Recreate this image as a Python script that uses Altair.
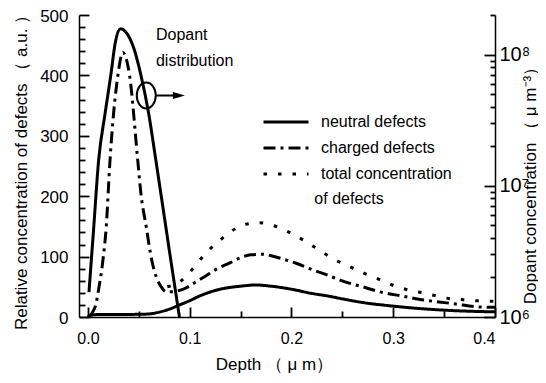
import altair as alt
import pandas as pd

# ---- data ----
series_names = ["neutral defects", "charged defects", "total concentration of defects"]

neutral_depth = [0.000, 0.003, 0.010, 0.030, 0.050, 0.060, 0.070, 0.080, 0.090, 0.100, 0.110,
                 0.130, 0.150, 0.165, 0.180, 0.200, 0.220, 0.235, 0.250, 0.270, 0.300, 0.330,
                 0.360, 0.400]
neutral_value = [0, 3, 4, 4, 4.5, 5, 8, 13, 20, 27, 35,
                 46, 51, 53, 51, 46, 39, 35, 30, 24, 18, 13.5,
                 10.5, 8.5]

charged_depth = [0.0016, 0.0049, 0.0081, 0.0098, 0.0147, 0.018, 0.0215, 0.0294, 0.0343, 0.0409,
                 0.049, 0.052, 0.0572, 0.0627, 0.067, 0.072, 0.0768, 0.083, 0.090, 0.095, 0.106,
                 0.115, 0.125, 0.140, 0.150, 0.160, 0.172, 0.180, 0.1915, 0.2046, 0.221, 0.233,
                 0.252, 0.270, 0.286, 0.3125, 0.330, 0.345, 0.3615, 0.381, 0.400]
charged_value = [2, 9, 23, 39, 94, 150, 255, 400, 438, 400,
                 258, 205, 150, 94, 67, 50, 42, 42, 44, 47, 58,
                 67, 78, 90, 98, 103, 104, 101.5, 96, 89, 78, 71,
                 58.5, 50, 42, 33.6, 28, 25, 21.5, 17, 16]

total_depth = [0.078, 0.090, 0.103, 0.116, 0.130, 0.140, 0.155, 0.168, 0.183, 0.198, 0.213,
               0.227, 0.241, 0.256, 0.270, 0.285, 0.299, 0.315, 0.329, 0.342, 0.357, 0.369,
               0.381, 0.400]
total_value = [50, 58, 80, 106, 127.5, 141, 153.5, 156, 151, 140, 126,
               111, 96.5, 84.4, 73.4, 63, 53, 44.7, 40, 35, 30, 28.5,
               27, 26]

dopant_depth = [0.001, 0.0055, 0.0105, 0.0167, 0.0225, 0.027, 0.032, 0.037, 0.045, 0.052,
                0.0598, 0.0667, 0.074, 0.080, 0.0899]
dopant_conc = [1.55e6, 4.6e6, 1.57e7, 3.5e7, 7.0e7, 1.25e8, 1.57e8, 1.49e8, 1.12e8, 7.0e7,
               3.5e7, 1.57e7, 6.6e6, 3.2e6, 1.0e6]

# axis ranges and tick values
X_MIN, X_MAX = -0.0088, 0.4
Y_MAX = 500
R_MIN, R_MAX = 1e6, 2e8
x_labels = [0.0, 0.1, 0.2, 0.3, 0.4]
x_minor = [0.05, 0.15, 0.25, 0.35]
left_major = [0, 100, 200, 300, 400, 500]
left_minor = [20, 40, 60, 80, 120, 140, 160, 180, 220, 240, 260, 280,
              320, 340, 360, 380, 420, 440, 460, 480]
right_major = [1e6, 1e7, 1e8]
right_minor = [2e6, 3e6, 4e6, 5e6, 6e6, 7e6, 8e6, 9e6,
               2e7, 3e7, 4e7, 5e7, 6e7, 7e7, 8e7, 9e7, 2e8]

# annotation
ann_text = ["Dopant", "distribution", "of defects"]
ann_depth = [0.0668, 0.0668, 0.2225]
ann_value = [467, 424, 195]
circle_depth = [0.0573]
circle_value = [366.7]
arrow_depth = [0.0668]
arrow_depth2 = [0.0894]
arrow_value = [366.7]

W, H = 416, 302
FONT = "Liberation Sans, Arial, sans-serif"

# ---- frames ----
rows = []
for name, ds, vs in zip(series_names,
                        [neutral_depth, charged_depth, total_depth],
                        [neutral_value, charged_value, total_value]):
    for d, v in zip(ds, vs):
        rows.append({"series": name, "depth": d, "value": v})
curves_df = pd.DataFrame(rows)
dop_df = pd.DataFrame({"depth": dopant_depth, "conc": dopant_conc})

xs = alt.Scale(domain=[X_MIN, X_MAX], nice=False, zero=False)
yl = alt.Scale(domain=[0, Y_MAX], nice=False, zero=False)
yr = alt.Scale(type="log", domain=[R_MIN, R_MAX], nice=False)


def inward(n):
    # negative tick size draws the ticks into the plot
    return alt.ExprRef(expr=str(-n))


curves = alt.Chart(curves_df).mark_line(
    strokeWidth=3, color="black", interpolate="monotone", clip=True
).encode(
    x=alt.X("depth:Q", scale=xs, axis=alt.Axis(
        orient="bottom", values=x_labels, format=".1f", ticks=True, tickSize=inward(10),
        labelPadding=23, labelFontSize=16, title="Depth （ μ m）", titleFontSize=17,
        titleX=195, titleY=47, titleAlign="center", titleBaseline="middle")),
    y=alt.Y("value:Q", scale=yl, axis=alt.Axis(
        orient="left", values=left_major, ticks=True, tickSize=inward(10), labelPadding=21,
        labelFontSize=17, labelOffset=1,
        title="Relative concentration of defects （ a.u. ）",
        titleFontSize=17, titleAngle=270, titleX=-58, titleY=153,
        titleAlign="center", titleBaseline="middle")),
    strokeDash=alt.StrokeDash("series:N", scale=alt.Scale(
        domain=series_names, range=[[1, 0], [12, 5, 3, 5], [3.5, 11]]),
        legend=alt.Legend(
            title=None, orient="none", legendX=199, legendY=99, padding=0,
            symbolType="M -4.5 0 H 4.5", symbolSize=100, symbolStrokeWidth=3,
            symbolStrokeColor="black", labelFontSize=16, labelFont=FONT,
            labelOffset=27, rowPadding=10, labelLimit=300,
            labelExpr="datum.label == 'total concentration of defects' ? 'total concentration' : datum.label")),
)

dopant = alt.Chart(dop_df).mark_line(
    strokeWidth=3, color="black", interpolate="monotone", clip=True
).encode(
    x=alt.X("depth:Q", scale=xs, axis=None),
    y=alt.Y("conc:Q", scale=yr, axis=alt.Axis(
        orient="right", values=right_major, ticks=True, tickSize=inward(11),
        labelPadding=15, labelFontSize=20,
        labelExpr="datum.value > 9e7 ? '10⁸' : datum.value > 9e6 ? '10⁷' : '10⁶'",
        title="Dopant concentration （ μ m⁻³）", titleFontSize=17, titleAngle=270,
        titleX=35, titleY=166, titleAlign="center", titleBaseline="middle")),
)

# minor ticks: extra axes on the same scales (invisible carrier marks)
minor_lin = alt.Chart(curves_df).mark_line(opacity=0, strokeOpacity=0).encode(
    x=alt.X("depth:Q", scale=xs, axis=alt.Axis(
        orient="bottom", values=x_minor, ticks=True, tickSize=inward(6),
        labels=False, domain=False, title=None)),
    y=alt.Y("value:Q", scale=yl, axis=alt.Axis(
        orient="left", values=left_minor, ticks=True, tickSize=inward(6),
        labels=False, domain=False, title=None)),
    detail="series:N",
)

minor_log = alt.Chart(dop_df).mark_line(opacity=0, strokeOpacity=0).encode(
    x=alt.X("depth:Q", scale=xs, axis=None),
    y=alt.Y("conc:Q", scale=yr, axis=alt.Axis(
        orient="right", values=right_minor, ticks=True, tickSize=inward(5),
        labels=False, domain=False, title=None)),
)

ann_df = pd.DataFrame({"t": ann_text, "d": ann_depth, "v": ann_value})
texts = alt.Chart(ann_df).mark_text(
    align="left", baseline="middle", fontSize=16, font=FONT, color="black"
).encode(
    x=alt.X("d:Q", scale=xs, axis=None),
    y=alt.Y("v:Q", scale=yl, axis=None),
    text="t:N",
)

circ_df = pd.DataFrame({"d": circle_depth, "v": circle_value})
ellipse = alt.Chart(circ_df).mark_point(
    shape="M -0.73 0 A 0.73 1 0 1 0 0.73 0 A 0.73 1 0 1 0 -0.73 0 Z",
    size=676, filled=False, strokeWidth=2, color="black", opacity=1
).encode(
    x=alt.X("d:Q", scale=xs, axis=None),
    y=alt.Y("v:Q", scale=yl, axis=None),
)

arr_df = pd.DataFrame({"d": arrow_depth, "d2": arrow_depth2, "v": arrow_value})
shaft = alt.Chart(arr_df).mark_rule(strokeWidth=2, color="black").encode(
    x=alt.X("d:Q", scale=xs, axis=None),
    x2="d2:Q",
    y=alt.Y("v:Q", scale=yl, axis=None),
)
head = alt.Chart(arr_df).mark_point(
    shape="M 1 0 L -1 -0.6 L -1 0.6 Z", size=144, filled=True, color="black", opacity=1
).encode(
    x=alt.X("d2:Q", scale=xs, axis=None),
    y=alt.Y("v:Q", scale=yl, axis=None),
)

chart = alt.layer(
    curves, dopant, minor_lin, minor_log, texts, ellipse, shaft, head,
).resolve_scale(
    y="independent"
).resolve_axis(
    x="independent", y="independent"
).properties(
    width=W, height=H,
    autosize=alt.AutoSizeParams(type="none"),
    padding={"left": 71, "top": 7, "right": 43, "bottom": 58},
).configure_axis(
    labelFont=FONT, titleFont=FONT, labelColor="black", titleColor="black",
    domainColor="black", tickColor="black", domainWidth=1.5, tickWidth=1.8,
    tickOpacity=1, grid=False, titleFontWeight="normal",
).configure_view(stroke="transparent")

chart.save("out.html", embed_options={"renderer": "svg", "actions": False})
